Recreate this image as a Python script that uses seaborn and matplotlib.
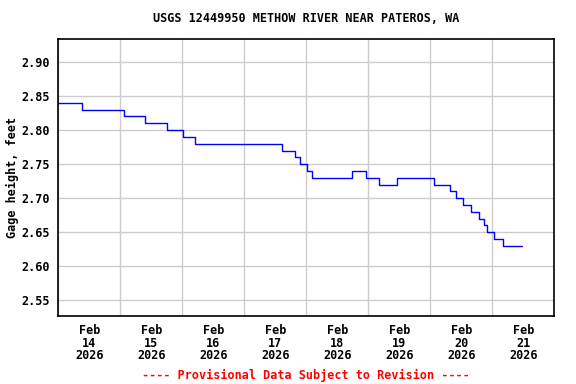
"""
USGS gage height chart, Methow River near Pateros, WA.
"""
import pandas as pd
import seaborn as sns
import matplotlib.pyplot as plt

# hours after Feb 14 00:00 where the stage changes, and the new stage
hours = [0, 9, 25.5, 33.5, 42.25, 48.25, 52.75, 86.75, 91.5, 93.75, 96.25,
         98.25, 113.5, 119, 124, 131, 145.25, 151.5, 154, 156.5, 159.75,
         162.75, 164.75, 166, 168.75, 172, 179.5]
gage = [2.84, 2.83, 2.82, 2.81, 2.80, 2.79, 2.78, 2.77, 2.76, 2.75, 2.74,
        2.73, 2.74, 2.73, 2.72, 2.73, 2.72, 2.71, 2.70, 2.69, 2.68,
        2.67, 2.66, 2.65, 2.64, 2.63, 2.63]

day_labels = ['Feb\n14\n2026', 'Feb\n15\n2026', 'Feb\n16\n2026', 'Feb\n17\n2026',
              'Feb\n18\n2026', 'Feb\n19\n2026', 'Feb\n20\n2026', 'Feb\n21\n2026']
y_ticks = [2.55, 2.60, 2.65, 2.70, 2.75, 2.80, 2.85, 2.90]

start = pd.Timestamp('2026-02-14')
df = pd.DataFrame({'time': start + pd.to_timedelta(hours, unit='h'),
                   'gage': gage})

sns.set_style('white')
plt.rcParams['font.family'] = ['DejaVu Sans Mono']
plt.rcParams['font.weight'] = 'bold'
for k in ['text.color', 'xtick.color', 'ytick.color', 'axes.labelcolor']:
    plt.rcParams[k] = 'black'
FS = 8.5

fig = plt.figure(figsize=(5.76, 3.84), dpi=100)
ax = fig.add_axes([58.3 / 576, 1 - 316 / 384, 496 / 576, (316 - 39.3) / 384])

sns.lineplot(data=df, x='time', y='gage', ax=ax, color='#0000ff',
             linewidth=1.0, drawstyle='steps-post')

ax.set_xlim(start, start + pd.Timedelta(days=8))
ax.set_ylim(2.527, 2.9333)

# gridlines at midnight, labels at noon
days = [start + pd.Timedelta(days=i) for i in range(9)]
noons = [start + pd.Timedelta(days=i, hours=12) for i in range(8)]
ax.set_xticks(days)
ax.set_xticklabels([''] * len(days))
ax.set_xticks(noons, minor=True)
ax.set_xticklabels(day_labels, minor=True, fontsize=FS, fontweight='bold',
                   linespacing=0.95)
ax.tick_params(axis='x', which='both', length=0)
ax.tick_params(axis='x', which='minor', pad=6)

ax.set_yticks(y_ticks)
ax.set_yticklabels([f'{v:.2f}' for v in y_ticks], fontsize=FS,
                   fontweight='bold')
ax.tick_params(axis='y', length=0, pad=6)

ax.grid(True, which='major', color='#cccccc', linewidth=1)
for s in ax.spines.values():
    s.set_color('black')
    s.set_linewidth(1.2)

ax.set_xlabel('')
ax.set_ylabel('')
fig.text(12 / 576, 1 - (39.3 + 316) / 2 / 384, 'Gage height, feet',
         rotation=90, ha='center', va='center', fontsize=FS,
         fontweight='bold')
fig.text(306 / 576, 1 - 19 / 384,
         'USGS 12449950 METHOW RIVER NEAR PATEROS, WA',
         ha='center', va='center', fontsize=FS, fontweight='bold')
fig.text(306 / 576, 1 - 375 / 384,
         '---- Provisional Data Subject to Revision ----',
         ha='center', va='center', fontsize=FS, fontweight='bold',
         color='#ff0000')

fig.savefig('out.png', dpi=100)
